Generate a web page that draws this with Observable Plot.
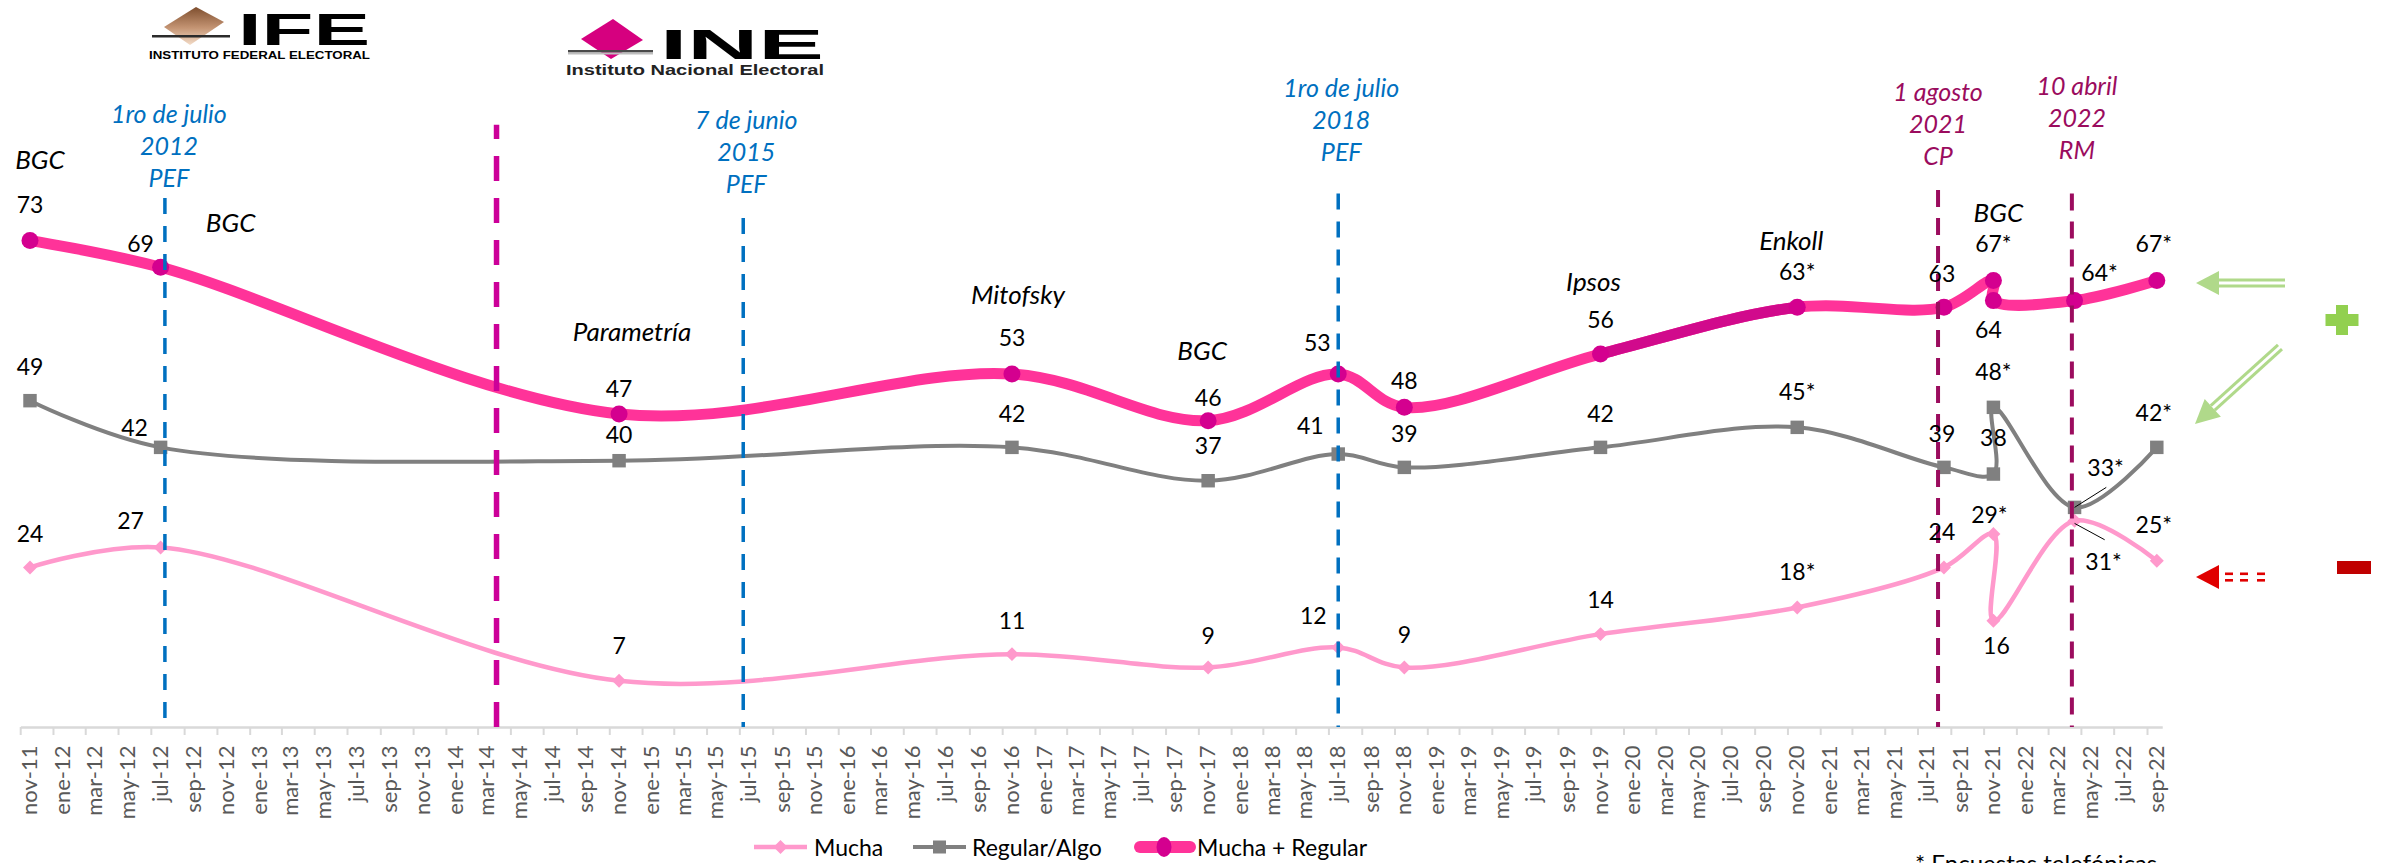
<!DOCTYPE html>
<html><head><meta charset="utf-8">
<script src="https://cdn.jsdelivr.net/npm/d3@7"></script>
<script src="https://cdn.jsdelivr.net/npm/@observablehq/plot@0.6"></script>
<style>
body{margin:0;background:#fff;font-family:Lato,sans-serif;}
#wrap{position:relative;width:2387px;height:863px;overflow:hidden;background:#fff}
.legItem{position:absolute;top:833px;display:flex;align-items:center;font-size:23px;line-height:28px;color:#000;white-space:nowrap}
#note{position:absolute;left:1915px;top:851px;font-size:24px;line-height:24px;white-space:nowrap;color:#000}
#deco{position:absolute;left:0;top:0;pointer-events:none}
</style></head>
<body><div id="wrap"><div id="chart"></div></div>
<script>
// ---------------- DATA ----------------
const surveyDates = ["2011-11-01","2012-07-01","2014-11-01","2016-11-01","2017-11-01","2018-07-01","2018-11-01","2019-11-01","2020-11-01","2021-08-01","2021-11-01","2021-11-01","2022-04-01","2022-09-01"];
const mucha        = [24,27, 7,11, 9,12, 9,14,18,24,29,16,31,25];
const regularAlgo  = [49,42,40,42,37,41,39,42,45,39,38,48,33,42];
const muchaRegular = [73,69,47,53,46,53,48,56,63,63,67,64,64,67];
// * = encuesta telefónica
const phoneMucha   = [0,0,0,0,0,0,0,0,1,0,1,0,1,1];
const phoneRegular = [0,0,0,0,0,0,0,0,1,0,0,1,1,1];
const phoneTotal   = [0,0,0,0,0,0,0,0,1,0,1,0,1,1];
const seriesNames = ["Mucha","Regular/Algo","Mucha + Regular"];
const pollsterNames = ["BGC","BGC","Parametría","Mitofsky","BGC","Ipsos","Enkoll","BGC"];
const pollsterPoint = [0,1,2,3,4,7,8,10];
const eventDates  = ["2012-07-09","2015-06-20","2018-07-01","2021-07-21","2022-03-27"];
const eventTexts  = ["1ro de julio\n2012\nPEF","7 de junio\n2015\nPEF","1ro de julio\n2018\nPEF","1 agosto\n2021\nCP","10 abril\n2022\nRM"];
const eventKinds  = ["pef","pef","pef","cons","cons"];
const ifeIneDate = "2014-03-18";
const leaderFrom = [["2022-04-01",33],["2022-04-01",30.6]];
const leaderTo   = [["2022-05-30",36.0],["2022-05-27",28.15]];
const tickLabels = ["nov-11","ene-12","mar-12","may-12","jul-12","sep-12","nov-12","ene-13","mar-13","may-13","jul-13","sep-13","nov-13","ene-14","mar-14","may-14","jul-14","sep-14","nov-14","ene-15","mar-15","may-15","jul-15","sep-15","nov-15","ene-16","mar-16","may-16","jul-16","sep-16","nov-16","ene-17","mar-17","may-17","jul-17","sep-17","nov-17","ene-18","mar-18","may-18","jul-18","sep-18","nov-18","ene-19","mar-19","may-19","jul-19","sep-19","nov-19","ene-20","mar-20","may-20","jul-20","sep-20","nov-20","ene-21","mar-21","may-21","jul-21","sep-21","nov-21","ene-22","mar-22","may-22","jul-22","sep-22"];

// ---------------- LAYOUT / STYLE ----------------
const offTotal   = [[0,-35],[-20,-23],[0,-24],[0,-35],[0,-22],[-21,-30],[0,-26],[0,-33],[0,-35],[-2,-33],[0,-36],[-5,30],[25,-27],[-3,-36]];
const offRegular = [[0,-33],[-26,-19],[0,-25],[0,-33],[0,-34],[-28,-27],[0,-33],[0,-33],[0,-35],[-2,-33],[0,-35],[0,-35],[31,-39],[-3,-34]];
const offMucha   = [[0,-33],[-30,-26],[0,-34],[0,-33],[0,-31],[-25,-31],[0,-32],[0,-33],[0,-35],[-2,-35],[-4,-18],[3,26],[29,42],[-3,-35]];
const offPollster = [[10,-80],[70,-44],[13,-81],[6,-78],[-6,-69],[-7,-71],[-6,-66],[5,-67]];
const eventTop    = [79.3,76.3,80,80.5,80];
const eventLabelY = [87.3,86.5,91.2,90.7,91.6];
const eventLabelDx = [4,3,3,0,5];
const ifeIneTop = 90.3;
const C = {mucha:"#FF99CC", regular:"#808080", total:"#FF3399", totalDark:"#D10A8C", dot:"#D4008F",
           pef:"#0070C0", cons:"#9B0C5E", ifeine:"#CC0099", axis:"#D9D9D9", tick:"#595959"};
const seriesColors = [C.mucha, C.regular, C.total];
const legendX = [754, 913, 1134];

// ---------------- BUILD ----------------
const parse = d3.utcParse("%Y-%m-%d");
const rows = surveyDates.map((d,i)=>({date:parse(d), mucha:mucha[i], regular:regularAlgo[i], total:muchaRegular[i]}));
const tickDates = tickLabels.map((_,i)=>d3.utcMonth.offset(parse("2011-11-01"), 2*i));
const labelMap = new Map(tickDates.map((d,i)=>[+d, tickLabels[i]]));
const events = eventDates.map((d,i)=>({date:parse(d), text:eventTexts[i], kind:eventKinds[i], top:eventTop[i], ly:eventLabelY[i], dx:eventLabelDx[i]}));

const labelMarks = [];
[["mucha",phoneMucha,offMucha],["regular",phoneRegular,offRegular],["total",phoneTotal,offTotal]].forEach(([key,ph,off])=>{
  rows.forEach((r,i)=>labelMarks.push(Plot.text([r],{x:"date",y:key,text:d=>d[key]+(ph[i]?"*":""),dx:off[i][0],dy:off[i][1],fontSize:23,fill:"#000"})));
});
const pollMarks = pollsterNames.map((n,k)=>Plot.text([rows[pollsterPoint[k]]],{x:"date",y:"total",text:()=>n,dx:offPollster[k][0],dy:offPollster[k][1],fontSize:26,fontStyle:"italic",fill:"#000"}));
const eventLabelMarks = events.map(e=>Plot.text([e],{x:"date",y:"ly",text:"text",dx:e.dx,fontSize:25,fontStyle:"italic",lineHeight:1.28,fill:C[e.kind]}));

const darkIdx = [6,7,8,9];
const darkRows = darkIdx.map(i=>rows[i]);
const darkSeg = Plot.line(darkRows,{x:"date",y:"total",curve:"catmull-rom",stroke:C.totalDark,strokeWidth:11,
  render(index, scales, values, dimensions, context, next){
    const g = next(index, scales, values, dimensions, context);
    const x0 = scales.x(rows[7].date), x1 = scales.x(rows[8].date);
    const ns = "http://www.w3.org/2000/svg";
    const cp = document.createElementNS(ns,"clipPath"); cp.setAttribute("id","darkclip");
    const rc = document.createElementNS(ns,"rect");
    rc.setAttribute("x",x0); rc.setAttribute("y",0); rc.setAttribute("width",x1-x0); rc.setAttribute("height",dimensions.height);
    cp.appendChild(rc); g.insertBefore(cp,g.firstChild);
    g.setAttribute("clip-path","url(#darkclip)");
    return g;
  }});

const chart = Plot.plot({
  width:2387, height:830, marginLeft:29.5, marginRight:230.7, marginTop:60, marginBottom:103,
  x:{type:"utc", domain:[parse("2011-11-01"), parse("2022-09-01")]},
  y:{domain:[0,100], axis:null},
  style:{fontFamily:"Lato, sans-serif", background:"white", overflow:"visible"},
  marks:[
    Plot.ruleY([0],{x1:parse("2011-10-16"), x2:parse("2022-09-13"), stroke:C.axis, strokeWidth:2.5}),
    Plot.ruleX(tickDates,{x:d=>d, y1:0, y2:-1.2, dx:-9.3, stroke:C.axis, strokeWidth:2}),
    Plot.axisX({ticks:tickDates, tickFormat:d=>labelMap.get(+d), tickRotate:-90, tickSize:0, tickPadding:18, fontSize:22, fill:C.tick, color:C.tick, label:null}),
    Plot.line(rows,{x:"date",y:"mucha",curve:"catmull-rom",stroke:C.mucha,strokeWidth:4.5}),
    Plot.line(rows,{x:"date",y:"regular",curve:"catmull-rom",stroke:C.regular,strokeWidth:4}),
    Plot.line(rows,{x:"date",y:"total",curve:"catmull-rom",stroke:C.total,strokeWidth:11}),
    darkSeg,
    Plot.dot(rows,{x:"date",y:"mucha",symbol:"diamond2",r:6.3,fill:C.mucha}),
    Plot.dot(rows,{x:"date",y:"regular",symbol:"square",r:7.6,fill:C.regular}),
    Plot.dot(rows,{x:"date",y:"total",r:8.5,fill:C.dot}),
    Plot.ruleX(events.filter(e=>e.kind==="pef"),{x:"date",y1:"top",y2:0,stroke:C.pef,strokeWidth:3.5,strokeDasharray:"16,12"}),
    Plot.ruleX(events.filter(e=>e.kind==="cons"),{x:"date",y1:"top",y2:0,stroke:C.cons,strokeWidth:4,strokeDasharray:"17,11"}),
    Plot.ruleX([parse(ifeIneDate)],{x:d=>d,y1:0,y2:ifeIneTop,stroke:C.ifeine,strokeWidth:5.5,strokeDasharray:"25,17"}),
    Plot.link(leaderFrom.map((f,i)=>({x1:parse(f[0]),y1:f[1],x2:parse(leaderTo[i][0]),y2:leaderTo[i][1]})),{x1:"x1",y1:"y1",x2:"x2",y2:"y2",stroke:"#000",strokeWidth:1}),
    ...eventLabelMarks,
    ...pollMarks,
    ...labelMarks
  ]
});
const wrap = document.getElementById("wrap");
document.getElementById("chart").appendChild(chart);

// legend (below the SVG)
const glyphs = [
  `<svg width="53" height="24"><line x1="0" y1="12" x2="53" y2="12" stroke="${C.mucha}" stroke-width="4.5"/><path d="M26.5,5 L33.5,12 L26.5,19 L19.5,12Z" fill="${C.mucha}"/></svg>`,
  `<svg width="53" height="24"><line x1="0" y1="12" x2="53" y2="12" stroke="${C.regular}" stroke-width="4"/><rect x="20" y="5.5" width="13" height="13" fill="${C.regular}"/></svg>`,
  `<svg width="62" height="24"><line x1="6" y1="12" x2="56" y2="12" stroke="${C.total}" stroke-width="12" stroke-linecap="round"/><ellipse cx="30" cy="12" rx="7.5" ry="10" fill="${C.dot}"/></svg>`
];
const textGap = [7,6,1];
seriesNames.forEach((n,i)=>{
  const it = document.createElement("div"); it.className="legItem"; it.style.left=legendX[i]+"px";
  it.innerHTML = glyphs[i] + `<span style="margin-left:${textGap[i]}px">${n}</span>`;
  wrap.appendChild(it);
});
const note = document.createElement("div"); note.id="note"; note.textContent="* Encuestas telefónicas"; wrap.appendChild(note);

// decorations: logos and arrows
const deco = `<svg id="deco" width="2387" height="863" xmlns="http://www.w3.org/2000/svg">
<defs><linearGradient id="ifeg" x1="0" y1="0" x2="0" y2="1"><stop offset="0" stop-color="#7E4E2E"/><stop offset="0.55" stop-color="#C49473"/><stop offset="1" stop-color="#F3DCC8"/></linearGradient></defs>
<polygon points="196,7 224,22 190,45 164,27" fill="url(#ifeg)"/>
<rect x="152" y="35" width="78" height="2.5" fill="#2b2b2b"/>
<text x="238" y="45" font-family="Liberation Sans, Arial, sans-serif" font-weight="bold" font-size="44" textLength="132" lengthAdjust="spacingAndGlyphs">IFE</text>
<text x="149" y="59" font-family="Liberation Sans, Arial, sans-serif" font-weight="bold" font-size="11" textLength="221" lengthAdjust="spacingAndGlyphs">INSTITUTO FEDERAL ELECTORAL</text>
<polygon points="613,19 643,40 611,59 581,39" fill="#D6007F"/>
<rect x="568" y="50" width="85" height="2.5" fill="#4a4a4a"/>
<rect x="568" y="52.5" width="85" height="2" fill="#bdbdbd"/>
<text x="660" y="59" font-family="Liberation Sans, Arial, sans-serif" font-weight="bold" font-size="43" textLength="164" lengthAdjust="spacingAndGlyphs">INE</text>
<text x="566" y="75" font-family="Liberation Sans, Arial, sans-serif" font-weight="bold" font-size="14" fill="#222" textLength="258" lengthAdjust="spacingAndGlyphs">Instituto Nacional Electoral</text>
<polygon points="2196,283 2219,271 2219,295" fill="#B0D98A"/>
<line x1="2218" y1="280" x2="2285" y2="280" stroke="#B0D98A" stroke-width="3"/>
<line x1="2218" y1="286" x2="2285" y2="286" stroke="#B0D98A" stroke-width="3"/>
<polygon points="2195,424 2220.9,416.8 2204.7,399" fill="#B0D98A"/>
<line x1="2282" y1="349.2" x2="2214.8" y2="410.1" stroke="#B0D98A" stroke-width="3"/>
<line x1="2278" y1="344.8" x2="2210.8" y2="405.7" stroke="#B0D98A" stroke-width="3"/>
<rect x="2325.5" y="314" width="33" height="12" fill="#92D050"/>
<rect x="2336" y="305" width="12" height="30" fill="#92D050"/>
<polygon points="2196,577 2219,565 2219,589" fill="#E00000"/>
<g fill="#E00000"><rect x="2225" y="572.5" width="8" height="2.6"/><rect x="2225" y="579" width="8" height="2.6"/>
<rect x="2240" y="572.5" width="8" height="2.6"/><rect x="2240" y="579" width="8" height="2.6"/>
<rect x="2257" y="572.5" width="8" height="2.6"/><rect x="2257" y="579" width="8" height="2.6"/></g>
<rect x="2337" y="561" width="34" height="13" fill="#C00000"/>
</svg>`;
wrap.insertAdjacentHTML("beforeend", deco);
</script></body></html>
